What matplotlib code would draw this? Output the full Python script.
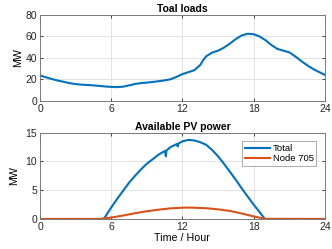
import matplotlib
matplotlib.use("Agg")
import matplotlib.pyplot as plt

plt.rcParams['font.family'] = ['Liberation Sans', 'DejaVu Sans']

# Total loads (MW) by hour
load_hours = [0, 0.5, 1, 1.5, 2, 2.5, 3, 3.5, 4, 4.5, 5, 5.5, 6, 6.5, 7, 7.5, 8, 8.5, 9,
              9.5, 10, 10.5, 11, 11.5, 12, 12.5, 13, 13.5, 13.75, 14, 14.5, 15, 15.5, 16,
              16.5, 17, 17.5, 18, 18.5, 19, 19.5, 20, 20.5, 21, 21.5, 22, 22.5, 23, 23.5, 24]
load_mw = [23.8, 22.0, 20.4, 19.0, 17.8, 16.6, 15.7, 15.2, 14.9, 14.5, 14.0, 13.5, 13.1,
           12.9, 13.3, 14.5, 15.8, 16.6, 17.1, 17.7, 18.4, 19.2, 20.2, 22.4, 25.0, 26.8,
           28.6, 33.5, 38.0, 41.5, 45.0, 46.8, 49.6, 53.4, 57.6, 61.0, 62.5, 62.1, 60.0,
           56.5, 52.0, 48.4, 46.8, 45.2, 41.5, 37.2, 33.3, 29.8, 27.0, 24.3]

# Available PV power (MW)
pv_hours = [0, 5, 5.35, 5.5, 6, 6.5, 7, 7.5, 8, 8.5, 9, 9.5, 10, 10.5, 10.55, 10.6, 10.65,
            11, 11.5, 11.55, 11.6, 11.65, 12, 12.5, 13, 13.5, 14, 14.5, 15, 15.5, 16, 16.5,
            17, 17.5, 18, 18.5, 18.95, 19, 24]
pv_total = [0, 0, 0, 0.4, 2.0, 3.5, 4.9, 6.3, 7.5, 8.6, 9.6, 10.4, 11.2, 11.8, 11.85, 10.9,
            11.9, 12.5, 13.0, 13.05, 12.6, 13.1, 13.5, 13.75, 13.65, 13.35, 12.9, 12.0,
            10.9, 9.6, 8.2, 6.8, 5.3, 3.9, 2.5, 1.2, 0, 0, 0]

node_hours = [0, 5, 6, 7, 8, 9, 10, 11, 12, 12.5, 13, 14, 15, 16, 17, 18, 19, 24]
node_705 = [0, 0, 0.25, 0.6, 1.0, 1.35, 1.62, 1.85, 1.96, 1.98, 1.96, 1.87, 1.68, 1.4,
            0.95, 0.45, 0.02, 0]

x_ticks = [0, 6, 12, 18, 24]

blue = '#0072BD'
orange = '#D95319'

fig = plt.figure(figsize=(3.32, 2.49), dpi=100)
ax1 = fig.add_axes([0.1205, 0.5944, 0.858, 0.3456])
ax2 = fig.add_axes([0.1205, 0.1205, 0.858, 0.3466])

def style(ax):
    ax.set_xlim(0, 24)
    ax.set_xticks(x_ticks)
    ax.grid(True, color='#e3e3e3', linewidth=0.7)
    ax.set_axisbelow(True)
    ax.tick_params(direction='in', length=2.5, width=0.6, labelsize=7.5, colors='#262626',
                   top=True, right=True, pad=2)
    for s in ax.spines.values():
        s.set_color('#7a7a7a')
        s.set_linewidth(0.7)

ax1.plot(load_hours, load_mw, color=blue, lw=1.5)
style(ax1)
ax1.set_ylim(0, 80)
ax1.set_yticks([0, 20, 40, 60, 80])
ax1.set_ylabel('MW', fontsize=7.7, labelpad=2)
ax1.set_title('Toal loads', fontsize=7.5, fontweight='bold', pad=2)

ax2.plot(pv_hours, pv_total, color=blue, lw=1.5, label='Total')
ax2.plot(node_hours, node_705, color=orange, lw=1.5, label='Node 705')
style(ax2)
ax2.set_ylim(0, 15)
ax2.set_yticks([0, 5, 10, 15])
ax2.set_ylabel('MW', fontsize=7.7, labelpad=5)
ax2.set_xlabel('Time / Hour', fontsize=7.7, labelpad=1)
ax2.set_title('Available PV power', fontsize=7.5, fontweight='bold', pad=2)
leg = ax2.legend(loc='upper right', fontsize=6.8, frameon=True, fancybox=False,
                 handlelength=2.6, borderpad=0.3, labelspacing=0.1, handletextpad=0.3,
                 borderaxespad=0.9, edgecolor='#888888')
leg.get_frame().set_linewidth(0.6)

fig.savefig('out.png', dpi=100)
